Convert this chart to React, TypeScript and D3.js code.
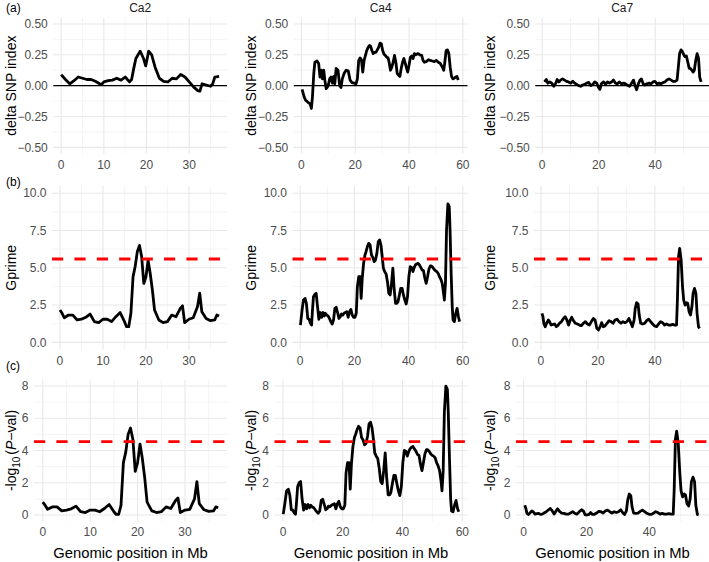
import React, { useEffect, useRef } from 'react';
import * as d3 from 'd3';

// Chromosomes shown in the three columns
const chromosomes = ['Ca2', 'Ca4', 'Ca7'];
const panelLetters = ['(a)', '(b)', '(c)'];

// Ca2 - delta SNP index
const ca2SnpPos = [0, 1, 2, 3, 4, 5, 6, 7, 8, 9, 9.5, 10, 11, 12, 13, 14, 15, 16, 16.5, 17, 17.5, 18.5, 19.3, 19.8, 20.5, 21.2, 22, 23, 24, 25, 26, 27, 28, 29, 30, 31, 32, 32.5, 33, 34, 35, 35.5, 36, 37];
const ca2Snp = [0.09, 0.05, 0.015, 0.04, 0.07, 0.06, 0.05, 0.05, 0.035, 0.015, 0.01, 0.03, 0.04, 0.045, 0.06, 0.045, 0.07, 0.03, 0.05, 0.14, 0.22, 0.28, 0.22, 0.16, 0.28, 0.25, 0.15, 0.06, 0.035, 0.03, 0.06, 0.055, 0.09, 0.07, 0.03, -0.01, -0.04, -0.045, 0.015, 0.005, -0.005, 0.015, 0.07, 0.075];

// Ca2 - Gprime and -log10(P)
const ca2Pos = [0, 0.5, 1, 2, 3, 4, 5, 6, 7, 8, 9, 10, 11, 12, 13, 14, 15, 15.5, 16, 16.5, 17, 17.5, 18, 18.5, 19, 19.5, 20, 20.5, 21, 21.5, 22, 23, 24, 25, 26, 27, 28, 28.5, 29, 30, 31, 32, 32.5, 33, 34, 35, 36, 36.5, 37];
const ca2Gprime = [2.17, 1.95, 1.65, 1.83, 1.83, 1.5, 1.55, 1.68, 1.9, 1.39, 1.32, 1.55, 1.55, 1.39, 1.72, 2.0, 1.39, 1.05, 1.05, 1.95, 4.4, 5.1, 6.1, 6.5, 5.75, 3.95, 4.4, 5.5, 4.6, 3.5, 2.17, 1.5, 1.32, 1.39, 1.83, 1.72, 2.28, 2.45, 1.32, 1.55, 1.65, 2.4, 3.3, 2.05, 1.6, 1.45, 1.5, 1.83, 1.77];
const ca2Pval = [0.8, 0.6, 0.35, 0.5, 0.5, 0.25, 0.3, 0.38, 0.55, 0.2, 0.15, 0.3, 0.3, 0.2, 0.4, 0.65, 0.2, 0.03, 0.03, 0.6, 3.25, 3.9, 5.0, 5.4, 4.7, 2.7, 3.25, 4.4, 3.5, 2.3, 0.8, 0.25, 0.15, 0.2, 0.5, 0.4, 0.9, 1.05, 0.15, 0.3, 0.35, 1.0, 2.07, 0.7, 0.32, 0.22, 0.25, 0.5, 0.45];

// Ca4 - delta SNP index
const ca4SnpPos = [0.25, 1.0, 1.6, 2.2, 2.7, 3.2, 3.7, 4.1, 4.6, 5.0, 5.8, 6.4, 6.9, 7.4, 7.8, 8.3, 8.7, 9.2, 9.9, 10.5, 11.0, 11.5, 12.0, 12.4, 12.9, 13.6, 14.2, 14.7, 15.2, 15.9, 16.6, 17.4, 18.1, 18.8, 19.6, 20.3, 20.8, 21.3, 21.8, 22.3, 22.8, 23.3, 23.8, 24.3, 24.8, 25.3, 25.7, 26.2, 26.7, 27.2, 27.7, 28.2, 28.7, 29.2, 29.7, 30.2, 30.7, 31.2, 31.7, 32.2, 32.6, 33.1, 33.6, 34.1, 34.6, 35.1, 35.6, 36.1, 36.6, 37.1, 37.6, 38.1, 38.6, 39.1, 39.5, 40.0, 40.5, 41.0, 41.5, 42.0, 42.5, 43.2, 44.0, 44.7, 45.2, 45.7, 46.4, 47.2, 47.9, 48.7, 49.4, 50.1, 50.9, 51.6, 52.4, 52.9, 53.3, 53.8, 54.3, 54.8, 55.3, 55.8, 56.3, 56.8, 57.3, 57.8, 58.3];
const ca4Snp = [-0.03, -0.09, -0.12, -0.13, -0.14, -0.145, -0.185, -0.09, 0.1, 0.19, 0.2, 0.18, 0.07, 0.125, 0.055, 0.125, 0.045, -0.025, -0.005, 0.055, 0.07, 0.02, 0.075, 0.015, 0.14, 0.125, 0.0, -0.015, 0.055, 0.1, 0.125, 0.12, 0.045, 0.025, 0.02, 0.015, 0.055, 0.205, 0.225, 0.21, 0.11, 0.205, 0.245, 0.285, 0.31, 0.325, 0.32, 0.285, 0.26, 0.27, 0.27, 0.29, 0.31, 0.345, 0.34, 0.285, 0.255, 0.245, 0.23, 0.225, 0.19, 0.125, 0.15, 0.19, 0.245, 0.19, 0.1, 0.085, 0.075, 0.14, 0.19, 0.22, 0.18, 0.14, 0.11, 0.165, 0.23, 0.24, 0.22, 0.26, 0.25, 0.26, 0.25, 0.245, 0.205, 0.19, 0.195, 0.21, 0.205, 0.2, 0.195, 0.205, 0.19, 0.18, 0.15, 0.125, 0.19, 0.285, 0.29, 0.26, 0.15, 0.075, 0.055, 0.06, 0.07, 0.075, 0.045];

// Ca4 - Gprime and -log10(P)
const ca4Pos = [0.1, 0.7, 1.2, 1.8, 2.3, 2.8, 3.3, 3.8, 4.2, 4.5, 4.9, 5.4, 5.9, 6.4, 6.9, 7.4, 7.9, 8.4, 8.9, 9.3, 9.8, 10.3, 10.8, 11.3, 11.8, 12.3, 12.8, 13.3, 13.8, 14.3, 14.8, 15.2, 15.7, 16.2, 16.7, 17.2, 17.7, 18.2, 18.7, 19.2, 19.7, 20.2, 20.7, 21.1, 21.6, 22.1, 22.5, 22.9, 23.4, 23.9, 24.3, 24.8, 25.3, 25.8, 26.3, 26.8, 27.3, 27.8, 28.3, 28.8, 29.3, 29.8, 30.2, 30.7, 31.2, 31.7, 32.2, 32.7, 33.2, 33.7, 34.2, 34.7, 35.2, 35.7, 36.1, 36.6, 37.1, 37.6, 38.1, 38.6, 39.1, 39.6, 40.1, 40.6, 41.1, 41.6, 42.1, 42.5, 43.0, 43.5, 44.0, 44.5, 45.0, 45.5, 46.0, 46.5, 47.0, 47.5, 48.0, 48.4, 48.9, 49.4, 49.9, 50.4, 50.9, 51.4, 51.9, 52.4, 52.9, 53.2, 53.6, 54.0, 54.5, 55.0, 55.3, 55.7, 56.1, 56.4, 56.9, 57.4, 57.9, 58.4, 58.8];
const ca4Gprime = [1.16, 2.17, 2.84, 2.95, 2.6, 1.6, 1.55, 1.28, 1.16, 2.06, 3.06, 3.22, 3.29, 2.4, 1.55, 2.0, 1.68, 2.0, 1.77, 1.95, 1.83, 1.77, 1.6, 1.39, 1.23, 1.5, 2.28, 2.35, 2.0, 1.6, 1.72, 1.9, 1.83, 1.95, 2.01, 2.06, 1.68, 2.06, 2.21, 1.83, 1.68, 1.68, 1.95, 3.74, 4.4, 4.4, 2.95, 4.3, 5.3, 5.86, 6.08, 6.42, 6.64, 6.53, 5.86, 5.7, 5.41, 5.53, 5.97, 6.76, 6.87, 6.53, 5.86, 4.97, 4.74, 4.59, 4.07, 3.29, 3.18, 3.96, 4.97, 3.51, 2.62, 2.62, 2.73, 3.18, 3.62, 3.62, 3.18, 2.84, 2.57, 3.06, 4.4, 5.08, 5.03, 4.74, 5.03, 5.19, 5.26, 5.3, 5.19, 5.03, 4.85, 4.81, 4.3, 3.96, 4.4, 4.9, 5.12, 5.12, 5.03, 4.9, 4.81, 4.74, 4.63, 4.4, 4.23, 3.96, 3.29, 2.84, 3.96, 7.54, 9.28, 9.1, 7.54, 4.63, 2.4, 1.5, 1.39, 1.95, 2.28, 1.72, 1.39];
const ca4Pval = [0.05, 0.8, 1.5, 1.6, 1.22, 0.32, 0.3, 0.12, 0.05, 0.7, 1.75, 2.0, 2.07, 1.0, 0.3, 0.65, 0.38, 0.65, 0.45, 0.6, 0.5, 0.45, 0.32, 0.2, 0.1, 0.25, 0.9, 0.97, 0.65, 0.32, 0.4, 0.55, 0.5, 0.6, 0.65, 0.7, 0.38, 0.7, 0.85, 0.5, 0.38, 0.38, 0.6, 2.6, 3.25, 3.25, 1.6, 3.15, 4.25, 4.8, 5.0, 5.3, 5.5, 5.4, 4.8, 4.65, 4.35, 4.45, 4.9, 5.65, 5.75, 5.4, 4.8, 3.85, 3.65, 3.5, 2.9, 2.07, 1.95, 2.75, 3.85, 2.3, 1.25, 1.25, 1.4, 1.95, 2.45, 2.45, 1.95, 1.5, 1.2, 1.75, 3.25, 4.0, 3.95, 3.65, 3.95, 4.1, 4.2, 4.25, 4.1, 3.95, 3.75, 3.7, 3.15, 2.75, 3.25, 3.8, 4.05, 4.05, 3.95, 3.8, 3.7, 3.65, 3.55, 3.25, 3.05, 2.75, 2.07, 1.5, 2.75, 6.4, 8.0, 7.8, 6.4, 3.55, 1.0, 0.25, 0.2, 0.6, 0.9, 0.4, 0.2];

// Ca7 - delta SNP index
const ca7SnpPos = [0.8, 1.5, 2.0, 2.7, 3.4, 4.1, 4.7, 5.3, 5.9, 6.5, 7.2, 7.9, 8.6, 9.3, 10.1, 10.8, 11.5, 12.2, 12.9, 13.6, 14.3, 15.0, 15.7, 16.4, 17.2, 17.9, 18.6, 19.3, 19.9, 20.4, 20.9, 21.7, 22.4, 23.1, 23.8, 24.5, 25.2, 25.9, 26.6, 27.3, 28.0, 28.8, 29.5, 30.2, 30.9, 31.6, 32.3, 32.8, 33.4, 34.0, 34.6, 35.1, 35.7, 36.3, 37.0, 37.8, 38.5, 39.2, 39.9, 40.6, 41.3, 42.0, 42.7, 43.4, 44.1, 44.9, 45.6, 46.3, 47.0, 47.7, 48.2, 48.6, 49.1, 49.6, 50.1, 50.5, 51.0, 51.5, 52.0, 52.4, 52.9, 53.4, 53.8, 54.3, 54.8, 55.3, 55.7, 56.2];
const ca7Snp = [0.03, 0.05, 0.02, 0.03, 0.02, -0.005, 0.015, 0.05, 0.03, 0.045, 0.055, 0.045, 0.035, 0.03, 0.02, 0.035, 0.02, 0.01, 0.0, -0.005, 0.005, 0.01, 0.02, 0.027, 0.0, 0.01, 0.03, 0.02, -0.015, -0.03, 0.015, 0.03, 0.01, 0.03, 0.02, 0.03, 0.045, 0.02, 0.015, 0.03, 0.015, 0.02, 0.015, 0.003, -0.005, 0.02, 0.045, 0.003, -0.033, 0.015, 0.045, 0.055, 0.015, 0.005, 0.015, 0.02, 0.015, 0.03, 0.035, 0.015, 0.02, 0.015, 0.025, 0.03, 0.045, 0.055, 0.045, 0.035, 0.035, 0.045, 0.165, 0.26, 0.29, 0.275, 0.25, 0.235, 0.24, 0.19, 0.14, 0.14, 0.125, 0.11, 0.125, 0.205, 0.26, 0.22, 0.07, 0.03];

// Ca7 - Gprime and -log10(P)
const ca7Pos = [0.35, 0.7, 1.05, 1.5, 2.0, 2.6, 3.0, 3.6, 4.2, 4.8, 5.4, 5.9, 6.5, 7.2, 7.9, 8.5, 9.1, 9.7, 10.3, 10.8, 11.4, 12.1, 12.8, 13.5, 14.2, 14.9, 15.6, 16.3, 17.0, 17.7, 18.4, 19.0, 19.6, 20.2, 20.8, 21.3, 21.9, 22.5, 23.2, 23.9, 24.6, 25.3, 26.0, 26.7, 27.4, 28.1, 28.8, 29.5, 30.2, 30.9, 31.6, 32.1, 32.7, 33.1, 33.6, 34.1, 34.5, 35.0, 35.7, 36.4, 37.1, 37.8, 38.5, 39.2, 39.9, 40.6, 41.3, 42.0, 42.7, 43.4, 44.1, 44.8, 45.5, 46.2, 46.9, 47.6, 47.9, 48.3, 48.7, 49.2, 49.7, 50.1, 50.6, 51.1, 51.5, 52.0, 52.5, 53.0, 53.4, 53.9, 54.4, 54.8, 55.3, 55.7];
const ca7Gprime = [1.95, 1.72, 1.23, 1.05, 1.28, 1.5, 1.39, 1.16, 1.2, 1.23, 1.05, 1.12, 1.28, 1.39, 1.6, 1.72, 1.5, 1.16, 1.5, 1.68, 1.45, 1.28, 1.23, 1.16, 1.12, 1.28, 1.39, 1.23, 1.16, 1.39, 1.6, 1.5, 0.94, 0.83, 1.05, 1.32, 1.05, 1.1, 1.28, 1.45, 1.39, 1.28, 1.5, 1.55, 1.39, 1.28, 1.39, 1.32, 1.39, 1.6, 1.28, 1.05, 1.5, 2.28, 2.66, 2.57, 1.83, 1.28, 1.23, 1.28, 1.45, 1.55, 1.39, 1.23, 1.1, 1.05, 1.23, 1.39, 1.32, 1.16, 1.23, 1.16, 1.16, 1.2, 1.16, 1.16, 2.84, 5.75, 6.3, 5.53, 3.74, 2.84, 2.5, 2.66, 2.62, 2.06, 1.83, 2.4, 3.29, 3.62, 3.29, 1.95, 1.05, 0.94];
const ca7Pval = [0.6, 0.4, 0.1, 0.03, 0.12, 0.25, 0.2, 0.05, 0.08, 0.1, 0.03, 0.05, 0.12, 0.2, 0.32, 0.4, 0.25, 0.05, 0.25, 0.38, 0.22, 0.12, 0.1, 0.05, 0.05, 0.12, 0.2, 0.1, 0.05, 0.2, 0.32, 0.25, 0.01, 0.0, 0.03, 0.15, 0.03, 0.04, 0.12, 0.22, 0.2, 0.12, 0.25, 0.3, 0.2, 0.12, 0.2, 0.15, 0.2, 0.32, 0.12, 0.03, 0.25, 0.9, 1.3, 1.2, 0.5, 0.12, 0.1, 0.12, 0.22, 0.3, 0.2, 0.1, 0.04, 0.03, 0.1, 0.2, 0.15, 0.05, 0.1, 0.05, 0.05, 0.08, 0.05, 0.05, 1.5, 4.7, 5.2, 4.45, 2.6, 1.5, 1.12, 1.3, 1.25, 0.7, 0.55, 1.0, 2.07, 2.35, 2.07, 0.6, 0.03, 0.01];

// thresholds (red dashed lines)
const gprimeThreshold = 5.59;
const pvalThreshold = 4.55;

// axis ticks
const snpTicks = [-0.5, -0.25, 0, 0.25, 0.5];
const gprimeTicks = [0, 2.5, 5, 7.5, 10];
const pvalTicks = [0, 2, 4, 6, 8];
const ca2Ticks = [0, 10, 20, 30];
const ca4Ticks = [0, 20, 40, 60];
const ca7Ticks = [0, 20, 40];

const xTitle = 'Genomic position in Mb';

const App: React.FC = () => {
  const svgRef = useRef<SVGSVGElement | null>(null);

  useEffect(() => {
    if (!svgRef.current) return;

    const svg = d3.select(svgRef.current);
    svg.selectAll('*').remove();

    const font = "'Liberation Sans', Arial, Helvetica, sans-serif";

    // column offsets and the right edge of each panel inside its column
    const colX = [0, 240.5, 482];
    const panelRight = 227;
    const yTitleX = [16, 255.5, 495];

    const chroms = [
      { ticks: ca2Ticks, snpPos: ca2SnpPos, snp: ca2Snp, pos: ca2Pos, gprime: ca2Gprime, pval: ca2Pval },
      { ticks: ca4Ticks, snpPos: ca4SnpPos, snp: ca4Snp, pos: ca4Pos, gprime: ca4Gprime, pval: ca4Pval },
      { ticks: ca7Ticks, snpPos: ca7SnpPos, snp: ca7Snp, pos: ca7Pos, gprime: ca7Gprime, pval: ca7Pval },
    ];

    const rows = [
      { top: 17.8, bottom: 153.5, left: 53.3, domain: [-0.5, 0.5], ticks: snpTicks, fmt: d3.format('.2f'), title: 'delta SNP index', letterY: 12 },
      { top: 185.8, bottom: 349.8, left: 52, domain: [0, 10], ticks: gprimeTicks, fmt: d3.format('.1f'), title: 'Gprime', letterY: 186 },
      { top: 379.6, bottom: 521.4, left: 34, domain: [0, 8], ticks: pvalTicks, fmt: d3.format('d'), title: '', letterY: 370 },
    ];

    const expand = (lo: number, hi: number) => {
      const e = (hi - lo) * 0.05;
      return [lo - e, hi + e];
    };

    // ggplot-style minor breaks: midpoints between major breaks
    const minorOf = (ticks: number[], dom: number[]) => {
      const step = ticks[1] - ticks[0];
      const ext = [ticks[0] - step, ...ticks, ticks[ticks.length - 1] + step];
      const out: number[] = [];
      for (let i = 0; i < ext.length - 1; i++) {
        const m = (ext[i] + ext[i + 1]) / 2;
        if (m >= dom[0] && m <= dom[1]) out.push(m);
      }
      return out;
    };

    rows.forEach((row, ri) => {
      // panel letter
      svg.append('text')
        .attr('x', 6)
        .attr('y', row.letterY)
        .text(panelLetters[ri])
        .style('font-family', font)
        .style('font-size', '12px')
        .style('fill', '#000');

      chroms.forEach((c, ci) => {
        const g = svg.append('g');
        const x0 = colX[ci] + row.left;
        const x1 = colX[ci] + panelRight;

        const allPos = ri === 0 ? c.snpPos : c.pos;
        const ext = d3.extent([...c.snpPos, ...c.pos]) as [number, number];
        const xDom = expand(ext[0], ext[1]);
        const yDom = expand(row.domain[0], row.domain[1]);

        const x = d3.scaleLinear().domain(xDom).range([x0, x1]);
        const y = d3.scaleLinear().domain(yDom).range([row.bottom, row.top]);

        // grid
        minorOf(row.ticks, yDom).forEach(v => {
          g.append('line').attr('x1', x0).attr('x2', x1).attr('y1', y(v)).attr('y2', y(v))
            .attr('stroke', '#efefef').attr('stroke-width', 0.7);
        });
        minorOf(c.ticks, xDom).forEach(v => {
          g.append('line').attr('x1', x(v)).attr('x2', x(v)).attr('y1', row.top).attr('y2', row.bottom)
            .attr('stroke', '#efefef').attr('stroke-width', 0.7);
        });
        row.ticks.forEach(v => {
          g.append('line').attr('x1', x0).attr('x2', x1).attr('y1', y(v)).attr('y2', y(v))
            .attr('stroke', '#e8e8e8').attr('stroke-width', 1.1);
        });
        c.ticks.filter(v => v >= xDom[0] && v <= xDom[1]).forEach(v => {
          g.append('line').attr('x1', x(v)).attr('x2', x(v)).attr('y1', row.top).attr('y2', row.bottom)
            .attr('stroke', '#e8e8e8').attr('stroke-width', 1.1);
        });

        // zero line for delta SNP index
        if (ri === 0) {
          g.append('line').attr('x1', x0).attr('x2', x1).attr('y1', y(0)).attr('y2', y(0))
            .attr('stroke', '#000').attr('stroke-width', 1.1);
        }

        const values = ri === 0 ? c.snp : ri === 1 ? c.gprime : c.pval;
        const pts = allPos.map((p, i) => [p, values[i]] as [number, number]);

        const line = d3.line<[number, number]>()
          .x(d => x(d[0]))
          .y(d => y(d[1]));

        g.append('path')
          .attr('d', line(pts) as string)
          .attr('fill', 'none')
          .attr('stroke', '#000')
          .attr('stroke-width', 2.8)
          .attr('stroke-linejoin', 'round')
          .attr('stroke-linecap', 'butt');

        // threshold
        if (ri > 0) {
          const thr = ri === 1 ? gprimeThreshold : pvalThreshold;
          g.append('line').attr('x1', x0).attr('x2', x1).attr('y1', y(thr)).attr('y2', y(thr))
            .attr('stroke', '#ff0000').attr('stroke-width', 2.8)
            .attr('stroke-dasharray', '11.2 11.2');
        }

        // y tick labels
        row.ticks.forEach(v => {
          g.append('text')
            .attr('x', x0 - 5.5)
            .attr('y', y(v) + 4.2)
            .attr('text-anchor', 'end')
            .text(row.fmt(v))
            .style('font-family', font)
            .style('font-size', '12px')
            .style('fill', '#4d4d4d');
        });

        // x tick labels
        c.ticks.filter(v => v >= xDom[0] && v <= xDom[1]).forEach(v => {
          g.append('text')
            .attr('x', x(v))
            .attr('y', row.bottom + 15)
            .attr('text-anchor', 'middle')
            .text(String(v))
            .style('font-family', font)
            .style('font-size', '12px')
            .style('fill', '#4d4d4d');
        });

        // y axis title
        const cy = (row.top + row.bottom) / 2;
        const yt = g.append('text')
          .attr('transform', `translate(${yTitleX[ci]},${cy}) rotate(-90)`)
          .attr('text-anchor', 'middle')
          .style('font-family', font)
          .style('font-size', '14px')
          .style('fill', '#000');
        if (ri < 2) {
          yt.text(row.title);
        } else {
          yt.append('tspan').text('-log');
          yt.append('tspan').attr('dy', 4).style('font-size', '10px').text('10');
          yt.append('tspan').attr('dy', -4).attr('dx', 2).text('(');
          yt.append('tspan').style('font-style', 'italic').text('P');
          yt.append('tspan').text('\u2212val)');
        }

        // chromosome title on top row
        if (ri === 0) {
          g.append('text')
            .attr('x', (x0 + x1) / 2)
            .attr('y', 11.5)
            .attr('text-anchor', 'middle')
            .text(chromosomes[ci])
            .style('font-family', font)
            .style('font-size', '12px')
            .style('fill', '#1a1a1a');
        }

        // x axis title on bottom row
        if (ri === 2) {
          g.append('text')
            .attr('x', (x0 + x1) / 2)
            .attr('y', 558)
            .attr('text-anchor', 'middle')
            .text(xTitle)
            .style('font-family', font)
            .style('font-size', '14.8px')
            .style('fill', '#000');
        }
      });
    });
  }, []);

  return (
    <svg
      ref={svgRef}
      width={709}
      height={562}
      style={{ position: 'absolute', left: 0, top: 0, background: '#fff' }}
    ></svg>
  );
};

export default App;
